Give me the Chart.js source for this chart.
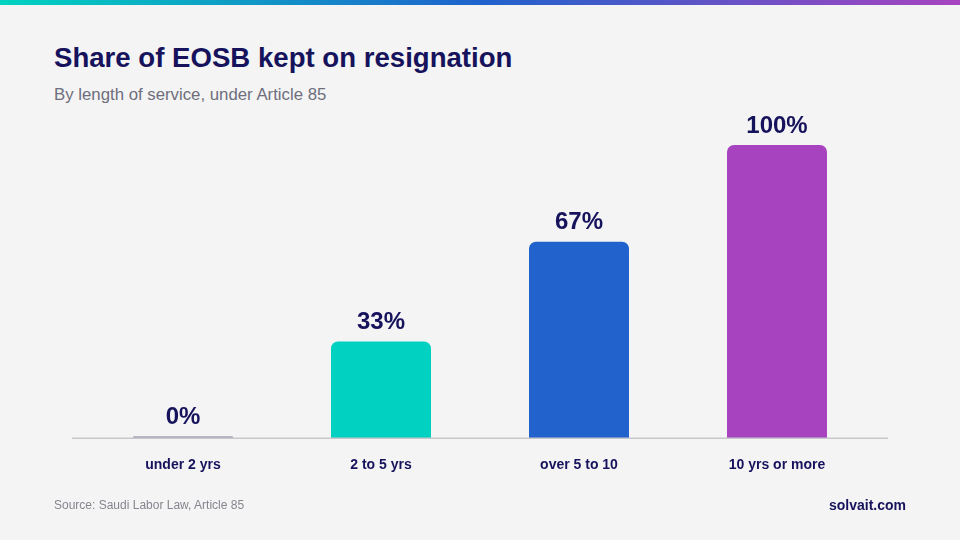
<!DOCTYPE html>
<html>
<head>
<meta charset="utf-8">
<script src="https://cdn.jsdelivr.net/npm/chart.js@4.4.0/dist/chart.umd.min.js"></script>
<style>
  html, body { margin: 0; padding: 0; background: #f4f4f4; }
  body { width: 960px; height: 540px; position: relative; overflow: hidden; font-family: "Liberation Sans", Arial, sans-serif; }
  .topbar { position: absolute; left: 0; top: 0; width: 960px; height: 5px;
    background: linear-gradient(90deg, #00d3c0 0%, #1f62cc 50%, #a843c0 100%); }
  h1 { position: absolute; left: 54px; top: 42px; margin: 0; font-size: 27.6px; font-weight: bold; color: #16125c; }
  .sub { position: absolute; left: 54px; top: 85px; font-size: 16.8px; color: #6e6e7c; }
  .src { position: absolute; left: 54px; top: 498px; font-size: 12px; color: #85858f; }
  .brand { position: absolute; right: 54px; top: 497px; font-size: 14px; font-weight: bold; color: #16125c; }
  #wrap { position: absolute; left: 0; top: 0; width: 960px; height: 540px; }
</style>
</head>
<body>
<div class="topbar"></div>
<h1>Share of EOSB kept on resignation</h1>
<div class="sub">By length of service, under Article 85</div>
<div id="wrap"><canvas id="barChart"></canvas></div>
<div class="src">Source: Saudi Labor Law, Article 85</div>
<div class="brand">solvait.com</div>
<script>
const categories = ['under 2 yrs', '2 to 5 yrs', 'over 5 to 10', '10 yrs or more'];
const shareKept = [0, 33, 67, 100];
const barColours = ['#a3a3b3', '#00d1c1', '#2162cc', '#a843c0'];

// value labels above bars + baseline that runs a bit past the bars
const extras = {
    id: 'extras',
    afterDatasetsDraw(chart) {
        const ctx = chart.ctx;
        const area = chart.chartArea;
        const y0 = chart.scales.y.getPixelForValue(0);
        ctx.save();
        ctx.strokeStyle = '#c8c8cc';
        ctx.lineWidth = 1.5;
        ctx.beginPath();
        ctx.moveTo(area.left - 12, y0);
        ctx.lineTo(area.right + 12, y0);
        ctx.stroke();

        ctx.fillStyle = '#16125c';
        ctx.font = 'bold 24px "Liberation Sans", Arial, sans-serif';
        ctx.textAlign = 'center';
        ctx.textBaseline = 'bottom';
        chart.getDatasetMeta(0).data.forEach(function(bar, i) {
            ctx.fillText(shareKept[i] + '%', bar.x, bar.y - 7);
        });
        ctx.restore();
    }
};

const first = document.getElementById('barChart').getContext('2d');
const chart = new Chart(first, {
    type: 'bar',
    data: {
        labels: categories,
        datasets: [{
            label: 'Share kept',
            data: shareKept,
            backgroundColor: barColours,
            borderRadius: 7,
            borderSkipped: 'bottom',
            minBarLength: 2,
            barPercentage: 0.505,
            categoryPercentage: 1
        }]
    },
    options: {
        responsive: true,
        maintainAspectRatio: false,
        animation: false,
        layout: { padding: { left: 84, right: 84, top: 145, bottom: 47 } },
        plugins: {
            legend: { display: false },
            tooltip: { enabled: false }
        },
        scales: {
            y: { display: false, min: 0, max: 100 },
            x: {
                grid: { display: false, drawTicks: false },
                border: { display: false },
                ticks: {
                    padding: 19,
                    color: '#16125c',
                    font: { family: '"Liberation Sans", Arial, sans-serif', size: 14, weight: 'bold' }
                }
            }
        }
    },
    plugins: [extras]
});
</script>
</body>
</html>
